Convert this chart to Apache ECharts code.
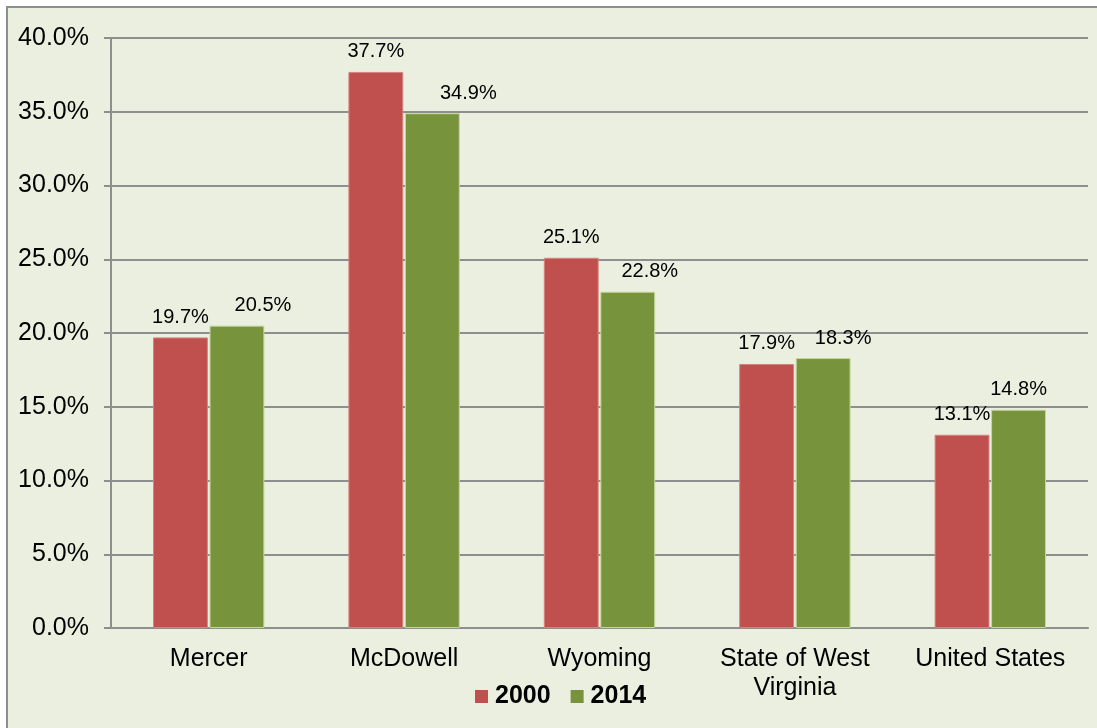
<!DOCTYPE html>
<html>
<head>
<meta charset="utf-8">
<script src="https://cdn.jsdelivr.net/npm/echarts@6/dist/echarts.min.js"></script>
<style>
  html, body { margin: 0; padding: 0; background: #fff; overflow: hidden; }
  #frame { position: absolute; left: 6px; top: 6px; width: 1200px; height: 900px;
           border: 2px solid #8e8e8e; background: #ebefdf; }
  #main { position: absolute; left: -8px; top: -8px; width: 1097px; height: 728px; }
</style>
</head>
<body>
<div id="frame"><div id="main"></div></div>
<script>
// 分类与数值
var regions = ['Mercer', 'McDowell', 'Wyoming', 'State of West\nVirginia', 'United States'];
var y2000 = [19.7, 37.7, 25.1, 17.9, 13.1];
var y2014 = [20.5, 34.9, 22.8, 18.3, 14.8];
var yTicks = [0, 5, 10, 15, 20, 25, 30, 35, 40];
// 2014 标签在原图中被手动右移 (px)
var shift2014 = [26, 36, 22, 20, 0];

var chart = echarts.init(document.getElementById('main'));
var font = 'Liberation Sans, Arial, sans-serif';

function pct(p) { return p.value.toFixed(1) + '%'; }

var data2014 = y2014.map(function (v, i) {
    return { value: v, label: { offset: [shift2014[i], 0] } };
});

var option = {
    animation: false,
    textStyle: { fontFamily: font },
    grid: { left: 111, right: 9, top: 38, bottom: 100 },
    legend: {
        data: ['2000', '2014'],
        left: 470,
        top: 679,
        itemWidth: 13,
        itemHeight: 13,
        itemGap: 20,
        icon: 'rect',
        itemStyle: { borderWidth: 0 },
        textStyle: { fontSize: 25, fontWeight: 'bold', color: '#000', fontFamily: font, padding: [0, 0, 0, 2] }
    },
    xAxis: {
        type: 'category',
        data: regions,
        axisLine: { lineStyle: { color: '#8e8e8e', width: 2 } },
        axisTick: { length: 6, lineStyle: { color: '#8e8e8e', width: 2 } },
        axisLabel: { color: '#000', fontSize: 25, margin: 17, lineHeight: 29, fontFamily: font }
    },
    yAxis: {
        type: 'value',
        min: yTicks[0],
        max: yTicks[yTicks.length - 1],
        interval: 5,
        axisLine: { show: true, lineStyle: { color: '#8e8e8e', width: 2 } },
        axisTick: { show: true, length: 7, lineStyle: { color: '#8e8e8e', width: 2 } },
        axisLabel: {
            color: '#000', fontSize: 25, margin: 22, fontFamily: font,
            formatter: function (v) { return v.toFixed(1) + '%'; }
        },
        splitLine: { lineStyle: { color: '#8e8e8e', width: 2 } }
    },
    series: [
        {
            name: '2000',
            type: 'bar',
            data: y2000,
            barGap: '3%',
            barCategoryGap: '43%',
            itemStyle: { color: '#c0504d', borderColor: '#d4847f', borderWidth: 1 },
            label: { show: true, position: 'top', color: '#000', fontSize: 20, distance: 10, formatter: pct }
        },
        {
            name: '2014',
            type: 'bar',
            data: data2014,
            itemStyle: { color: '#77933c', borderColor: '#c4d79b', borderWidth: 1 },
            label: { show: true, position: 'top', color: '#000', fontSize: 20, distance: 10, formatter: pct }
        }
    ]
};
chart.setOption(option);
</script>
</body>
</html>
